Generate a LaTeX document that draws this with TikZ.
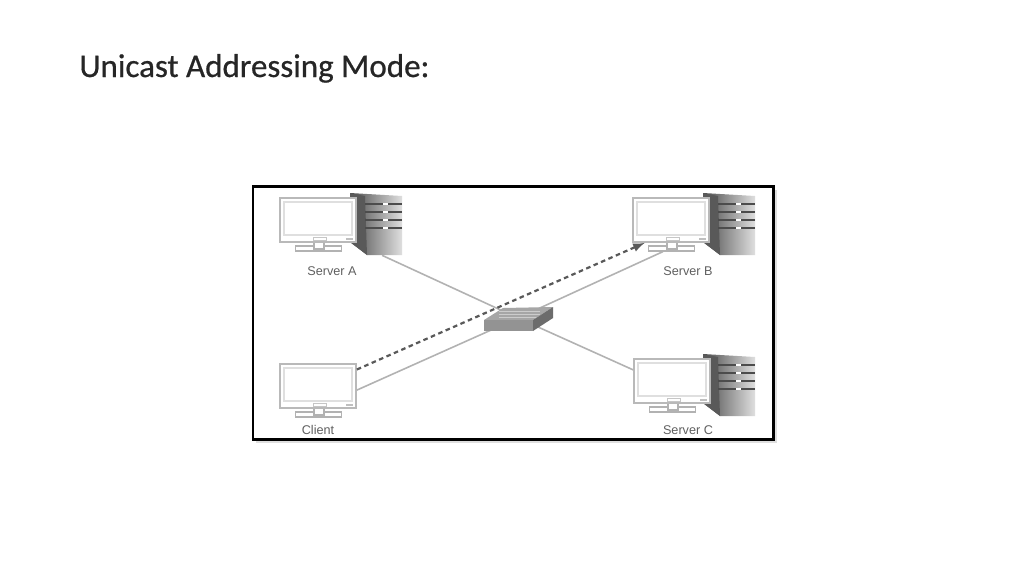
\documentclass[tikz,border=0pt]{standalone}
\usepackage{fontspec}
\setmainfont{Liberation Sans}
\newfontfamily\titlefont[FakeBold=0.6]{Carlito}
\usepackage{tikz}
\usetikzlibrary{calc}
\tikzset{
    monbox/.style={draw=gray!55, fill=white, line width=1pt, minimum width=1.52cm, minimum height=0.88cm, inner sep=0pt},
    basebox/.style={draw=gray!60, fill=white, line width=0.7pt, minimum width=0.92cm, minimum height=0.1cm, inner sep=0pt},
    towerbox/.style={minimum width=1.04cm, minimum height=1.24cm, inner sep=0pt},
    hostlabel/.style={text=gray!75!black, font=\fontsize{7.2}{8}\selectfont, inner sep=0pt},
    link/.style={draw=gray!60, line width=0.9pt},
    flow/.style={draw=black!65, line width=1.25pt, dash pattern=on 2.6pt off 2pt, -latex}
}
% top left corner of the monitor is the origin
\newcommand{\monitor}[3]{
    \begin{scope}[shift={(#2,#3)}]
        \node[basebox] (base#1) at (38.5,50.5) {};
        \draw[gray!60, fill=white, line width=0.7pt] (34,44) rectangle (44,51);
        \node[monbox] (mon#1) at (38,22) {};
        \draw[gray!25, line width=0.6pt] (4,4) rectangle (72,37);
        \draw[gray!45, line width=0.5pt] (33,39) rectangle (46,42);
        \fill[gray!50] (66,40) rectangle (73,41.5);
    \end{scope}
}
% same origin as the monitor next to it
\newcommand{\tower}[3]{
    \begin{scope}[shift={(#2,#3)}]
        \node[towerbox] (tower#1) at (26,31) {};
        \shade[left color=black!70, right color=gray!25] (0,0) -- (52,3) -- (52,62) -- (17,62) -- (0,49) -- cycle;
        \fill[black!65] (0,0) -- (15,3) -- (17,62) -- (0,49) -- cycle;
        \foreach \y in {11,19,27,35} {
            \draw[black!70, line width=1pt] (15,\y) -- (52,\y);
            \draw[white, line width=1pt] (33,\y) -- (38,\y);
        }
    \end{scope}
}
\begin{document}
\begin{tikzpicture}[x=0.02cm, y=-0.02cm]
    \useasboundingbox (0,0) rectangle (1024,576);
    \fill[white] (0,0) rectangle (1024,576);

    \node[anchor=base west, inner sep=0pt, font=\titlefont\fontsize{18.8}{22}\selectfont, text=black!85] (title) at (79,77) {Unicast Addressing Mode:};

    % frame
    \fill[gray!25] (256,190) rectangle (777,443);
    \draw[black, line width=1.7pt, fill=white] (253,186.5) rectangle (773.5,439.5);

    % servers
    \tower{A}{350}{193}
    \monitor{A}{280}{198}
    \tower{B}{703}{193}
    \monitor{B}{633}{198}
    \tower{C}{703}{354}
    \monitor{C}{634}{359}
    \monitor{D}{280}{364}

    \node[hostlabel] (labelA) at (332,271) {Server A};
    \node[hostlabel] (labelB) at (688,271) {Server B};
    \node[hostlabel] (labelC) at (688,430) {Server C};
    \node[hostlabel] (labelD) at (318,430) {Client};

    % links
    \node[inner sep=0pt, minimum size=0pt] (switch) at (518,318) {};
    \draw[link] (towerA.-79) -- (switch.center);
    \draw[link] (baseB.200) -- (switch.center);
    \draw[link] (monC.164) -- (switch.center);
    \draw[link] (monD.-6) -- (switch.center);

    % switch
    \fill[gray!70] (503,308) -- (553,307) -- (533,320) -- (484,320) -- cycle;
    \foreach \y in {311,314,317} {
        \draw[gray!40, line width=0.5pt] (499,\y) -- (540,\y);
    }
    \fill[gray!85] (484,320) rectangle (533,331);
    \fill[gray!85!black] (533,320) -- (553,307) -- (553,318) -- (533,331) -- cycle;

    % unicast
    \draw[flow] (monD.23.5) -- (monB.221);
\end{tikzpicture}
\end{document}
